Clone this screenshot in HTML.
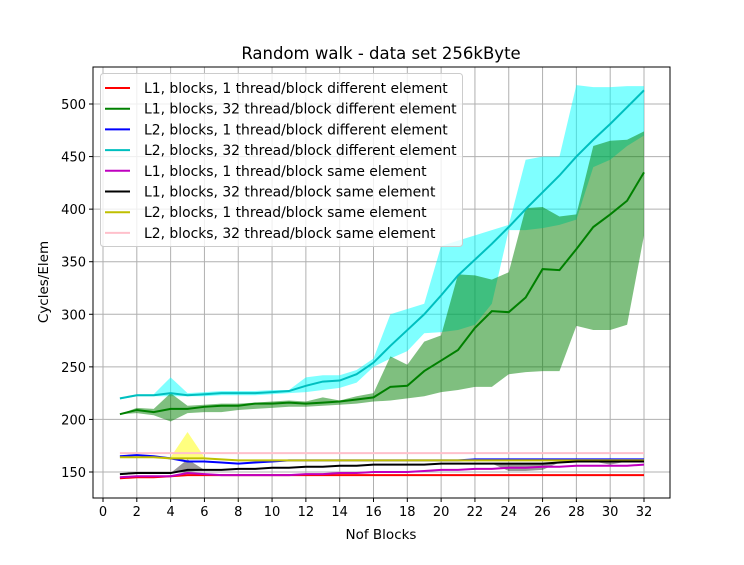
<!DOCTYPE html>
<html><head><meta charset="utf-8"><style>
body{margin:0;background:#fff;}
svg text{font-family:"DejaVu Sans","Liberation Sans",sans-serif;}
</style></head><body>
<svg id="chart" width="744" height="560" xmlns="http://www.w3.org/2000/svg">
<rect width="744" height="560" fill="#fff"/>
<g id="grid"></g><g id="bands"></g><g id="lines"></g><g id="axes"></g><g id="legend"></g>
<text x="381" y="59" text-anchor="middle" font-size="16.5">Random walk - data set 256kByte</text>
<text x="381" y="539" text-anchor="middle" font-size="13.5">Nof Blocks</text>
<text x="48" y="282" text-anchor="middle" font-size="13.5" transform="rotate(-90 48 282)">Cycles/Elem</text>
</svg>
<script>
const xs=[1,2,3,4,5,6,7,8,9,10,11,12,13,14,15,16,17,18,19,20,21,22,23,24,25,26,27,28,29,30,31,32];
const xTicks=[0,2,4,6,8,10,12,14,16,18,20,22,24,26,28,30,32];
const yTicks=[150,200,250,300,350,400,450,500];
const cyanMean=[220,223,223,225,223,224,225,225,225,226,227,232,236,237,243,254,270,285,300,318,337,352,367,383,400,416,432,450,466,481,497,513];
const cyanHi=[220,224,224,240,225,226,227,227,227,228,228,240,242,242,247,258,300,305,310,365,370,375,380,385,447,450,450,518,516,516,517,517];
const cyanLo=[219,222,222,222,222,222,223,223,223,224,225,226,228,230,235,250,258,265,282,283,285,290,310,380,380,382,385,390,440,447,460,470];
const greenMean=[205,209,207,210,210,212,213,213,215,215,216,215,216,217,219,221,231,232,246,256,266,287,303,302,316,343,342,362,383,395,408,435];
const greenHi=[205,211,210,225,213,214,215,215,216,217,218,217,221,218,222,225,260,252,274,280,338,337,333,340,401,402,393,395,460,465,466,474];
const greenLo=[205,206,204,198,206,207,207,209,210,211,212,212,213,214,215,217,218,220,222,226,228,231,231,243,245,246,246,289,285,285,290,375];
const pinkMean=[168,168,168,168,168,168,168,168,168,168,168,168,168,168,168,168,168,168,168,168,168,168,168,168,168,168,168,168,168,168,168,168];
const blueMean=[165,166,165,163,160,160,159,158,159,160,161,161,161,161,161,161,161,161,161,161,161,162,162,162,162,162,162,162,162,162,162,162];
const yellowMean=[164,164,164,163,163,163,162,161,161,161,161,161,161,161,161,161,161,161,161,161,161,161,161,161,161,161,161,161,161,161,161,161];
const yellowHi=[164,164,164,164,188,164,162,161,161,161,161,161,161,161,161,161,161,161,161,161,161,161,161,161,161,161,161,161,161,161,161,161];
const blackMean=[148,149,149,149,152,152,152,153,153,154,154,155,155,156,156,157,157,157,157,158,158,158,158,158,158,158,159,160,160,160,160,160];
const blackHi=[148,149,149,149,162,152,152,153,153,154,154,155,155,156,156,157,157,157,157,158,158,158,158,158,158,158,159,160,160,160,160,160];
const blackLo=[148,149,149,149,150,152,152,153,153,154,154,155,155,156,156,157,157,157,157,158,158,158,158,151,151,152,159,160,160,157,160,160];
const magentaMean=[145,146,146,146,149,148,147,147,147,147,147,148,148,149,149,150,150,150,151,152,152,153,153,154,154,155,155,156,156,156,156,157];
const redMean=[144,145,145,146,147,147,147,147,147,147,147,147,147,147,147,147,147,147,147,147,147,147,147,147,147,147,147,147,147,147,147,147];
const L=93,R=670,T=67,B=498;
const sx=v=>103+v*(644-103)/32;
const sy=v=>472-(v-150)*(472-104)/350;
const NS="http://www.w3.org/2000/svg";
function mk(tag,attrs,parent){const e=document.createElementNS(NS,tag);for(const k in attrs)e.setAttribute(k,attrs[k]);parent.appendChild(e);return e;}
const grid=document.getElementById('grid'),axes=document.getElementById('axes'),bands=document.getElementById('bands'),lines=document.getElementById('lines'),leg=document.getElementById('legend');
xTicks.forEach(t=>{const g=mk('line',{x1:sx(t),x2:sx(t),y1:T,y2:B,stroke:'#b0b0b0','stroke-width':1},grid);

const tk=mk('line',{x1:sx(t),x2:sx(t),y1:B,y2:B+4,stroke:'#000'},axes);

const tx=mk('text',{x:sx(t),y:B+18,'text-anchor':'middle','font-size':13},axes);tx.textContent=t;
});
yTicks.forEach(t=>{const g=mk('line',{x1:L,x2:R,y1:sy(t),y2:sy(t),stroke:'#b0b0b0','stroke-width':1},grid);

const tk=mk('line',{x1:L-4,x2:L,y1:sy(t),y2:sy(t),stroke:'#000'},axes);

const tx=mk('text',{x:L-7,y:sy(t)+5,'text-anchor':'end','font-size':13},axes);tx.textContent=t;
});
function band(hi,lo,color,op,name){let d='M'+xs.map((x,i)=>sx(x)+','+sy(hi[i])).join('L');
for(let i=xs.length-1;i>=0;i--)d+='L'+sx(xs[i])+','+sy(lo[i]);
const p=mk('path',{d:d+'Z',fill:color,opacity:op},bands);
}
band(cyanHi,cyanLo,'#00ffff',0.5,'band-l2-32-diff');
band(greenHi,greenLo,'#008000',0.5,'band-l1-32-diff');
band(yellowHi,yellowMean,'#ffff00',0.5,'band-l2-1-same');
band(blackHi,blackLo,'#000000',0.4,'band-l1-32-same');
function line(v,color,name){const p=mk('polyline',{points:xs.map((x,i)=>sx(x)+','+sy(v[i])).join(' '),fill:'none',stroke:color,'stroke-width':2},lines);
}
line(redMean,'#ff0000','line-l1-1-diff');
line(greenMean,'#008000','line-l1-32-diff');
line(cyanMean,'#00bfbf','line-l2-32-diff');
line(pinkMean,'#ffc0cb','line-l2-32-same');
line(blueMean,'#0000ff','line-l2-1-diff');
line(yellowMean,'#bfbf00','line-l2-1-same');
line(magentaMean,'#bf00bf','line-l1-1-same');
line(blackMean,'#000000','line-l1-32-same');
const fr=mk('rect',{x:L,y:T,width:R-L,height:B-T,fill:'none',stroke:'#000','stroke-width':1},axes);

const legendNames=["L1, blocks, 1 thread/block different element","L1, blocks, 32 thread/block different element","L2, blocks, 1 thread/block different element","L2, blocks, 32 thread/block different element","L1, blocks, 1 thread/block same element","L1, blocks, 32 thread/block same element","L2, blocks, 1 thread/block same element","L2, blocks, 32 thread/block same element"];
const legendColors=['#ff0000','#008000','#0000ff','#00bfbf','#bf00bf','#000000','#bfbf00','#ffc0cb'];
const lb=mk('rect',{x:100.5,y:73.5,width:362,height:173,rx:3,fill:'#fff','fill-opacity':0.8,stroke:'#ccc'},leg);

legendNames.forEach((n,i)=>{const y=88+i*20.7;
const l=mk('line',{x1:105,x2:130,y1:y,y2:y,stroke:legendColors[i],'stroke-width':2},leg);

const t=mk('text',{x:144,y:y+5,'font-size':13.9},leg);t.textContent=n;
});
</script>
</body></html>
